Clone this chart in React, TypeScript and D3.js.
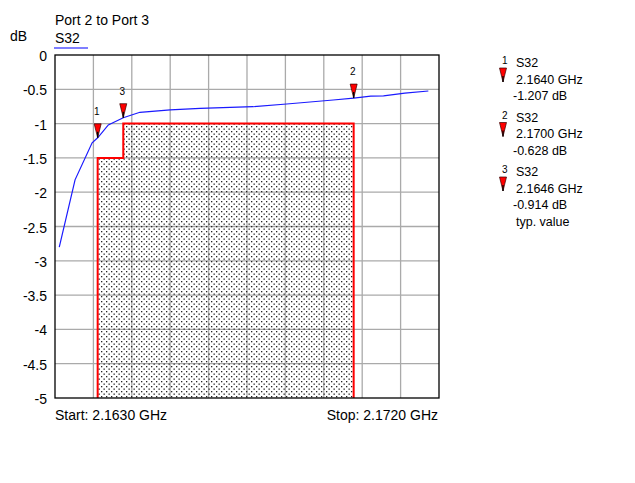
import React from "react";
import * as d3 from "d3";

const traceFreq = [2.1631, 2.16347, 2.16387, 2.164, 2.16425, 2.1646, 2.16499, 2.1657, 2.1664, 2.16764, 2.16843, 2.16952, 2.17, 2.1704, 2.1707, 2.1712, 2.17175];
const traceDb = [-2.8, -1.82, -1.28, -1.207, -1.02, -0.914, -0.835, -0.8, -0.777, -0.754, -0.714, -0.656, -0.628, -0.6, -0.595, -0.555, -0.525];

const maskFreq = [2.164, 2.164, 2.1646, 2.1646, 2.17, 2.17];
const maskDb = [-5, -1.5, -1.5, -1, -1, -5];

const markerIds = ["1", "2", "3"];
const markerFreq = [2.164, 2.17, 2.1646];
const markerDb = [-1.207, -0.628, -0.914];
const markerFreqLabels = ["2.1640 GHz", "2.1700 GHz", "2.1646 GHz"];
const markerDbLabels = ["-1.207 dB", "-0.628 dB", "-0.914 dB"];

const yTicks = [0, -0.5, -1, -1.5, -2, -2.5, -3, -3.5, -4, -4.5, -5];
const xStart = 2.163;
const xStop = 2.172;
const xGridCount = 10;

const FONT = "'Liberation Sans', Arial, Helvetica, sans-serif";

function Marker({ x, y, label }: { x: number; y: number; label: string }) {
  return (
    <g>
      <path d={`M${x - 3.5},${y - 14} L${x + 3.5},${y - 14} L${x},${y} Z`} fill="#ff0000" stroke="#300" strokeWidth={0.7} />
      <line x1={x} x2={x} y1={y - 6} y2={y} stroke="#000" strokeWidth={1.3} />
      {label ? (
        <text x={x - 1} y={y - 23} fontSize={10} fontFamily={FONT} textAnchor="middle" fill="#000">{label}</text>
      ) : null}
    </g>
  );
}

export default function App() {
  const left = 55, right = 439, top = 55, bottom = 398;
  const x = d3.scaleLinear().domain([xStart, xStop]).range([left, right]);
  const y = d3.scaleLinear().domain([0, -5]).range([top, bottom]);
  const xGrid = d3.range(1, xGridCount).map((i) => xStart + (i * (xStop - xStart)) / xGridCount);

  const line = d3.line<number>().x((_, i) => x(traceFreq[i])).y((d) => y(d)).curve(d3.curveLinear);
  const maskLine = d3.line<number>().x((_, i) => x(maskFreq[i])).y((d) => y(d));

  const legendX = 516;
  const legendTop = 67;
  const blockH = 54.5;
  const lineH = 16.5;

  return (
    <svg width={635} height={483} style={{ position: "absolute", left: 0, top: 0, background: "#fff" }} fontFamily={FONT}>
      <defs>
        <pattern id="dots" width={5} height={5} patternUnits="userSpaceOnUse">
          <rect x={1} y={1} width={1.3} height={1.3} fill="#222" />
          <rect x={3.5} y={3.5} width={1.3} height={1.3} fill="#222" />
        </pattern>
      </defs>
      <text x={55} y={25} fontSize={14}>Port 2 to Port 3</text>
      <text x={10} y={41} fontSize={14}>dB</text>
      <text x={55} y={43} fontSize={14}>S32</text>
      <line x1={54} x2={88} y1={48} y2={48} stroke="#0000ff" strokeWidth={1.2} />

      {yTicks.slice(1, -1).map((t) => (
        <line key={"h" + t} x1={left} x2={right} y1={y(t)} y2={y(t)} stroke="#aaa" strokeWidth={1.3} />
      ))}
      {xGrid.map((f, i) => (
        <line key={"v" + i} x1={x(f)} x2={x(f)} y1={top} y2={bottom} stroke="#aaa" strokeWidth={1.3} />
      ))}

      <path d={maskLine(maskDb) || ""} fill="url(#dots)" stroke="#ff0000" strokeWidth={2} />

      <rect x={left} y={top} width={right - left} height={bottom - top} fill="none" stroke="#000" strokeWidth={1.3} />

      {yTicks.map((t) => (
        <text key={"yl" + t} x={47} y={y(t) + 6} fontSize={14} textAnchor="end">{String(t)}</text>
      ))}

      <path d={line(traceDb) || ""} fill="none" stroke="#1a1aff" strokeWidth={1.2} />

      {markerIds.map((id, i) => (
        <Marker key={"m" + id} x={x(markerFreq[i])} y={y(markerDb[i])} label={id} />
      ))}

      <text x={55} y={420} fontSize={14}>Start: {xStart.toFixed(4)} GHz</text>
      <text x={438} y={420} fontSize={14} textAnchor="end">Stop: {xStop.toFixed(4)} GHz</text>

      {markerIds.map((id, i) => {
        const by = legendTop + i * blockH;
        return (
          <g key={"lg" + id}>
            <text x={legendX - 14} y={by - 3} fontSize={10}>{id}</text>
            <text x={legendX} y={by} fontSize={12.5}>S32</text>
            <Marker x={503} y={by + 15} label="" />
            <text x={legendX} y={by + lineH} fontSize={12.5}>{markerFreqLabels[i]}</text>
            <text x={legendX - 3} y={by + 2 * lineH} fontSize={12.5}>{markerDbLabels[i]}</text>
            {i === 2 ? <text x={legendX} y={by + 3 * lineH} fontSize={12.5}>typ. value</text> : null}
          </g>
        );
      })}
    </svg>
  );
}
